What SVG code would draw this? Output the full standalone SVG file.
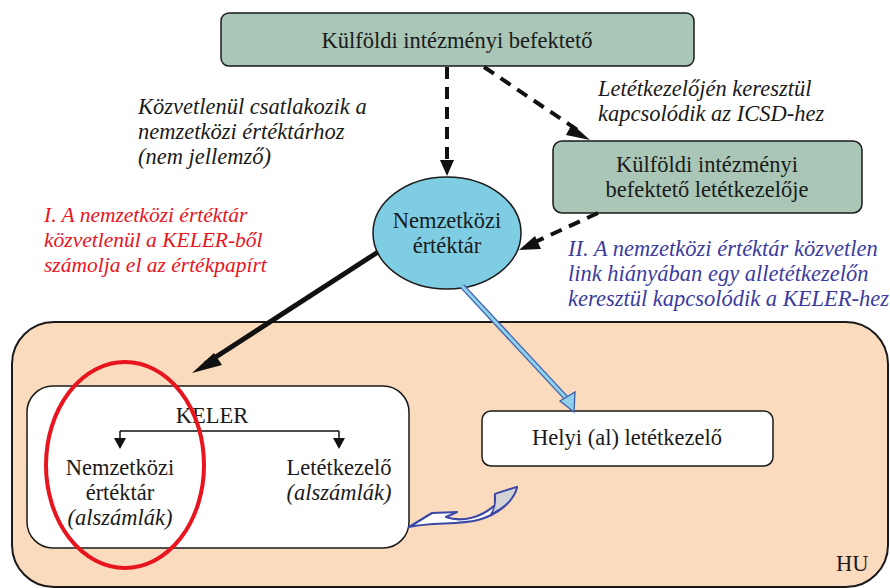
<svg xmlns="http://www.w3.org/2000/svg" width="890" height="588" viewBox="0 0 890 588" font-family="Liberation Serif, DejaVu Serif, serif">
<style>
text{font-family:"Liberation Serif","DejaVu Serif",serif;font-size:22.5px;fill:#1a1a1a}
.c{text-anchor:middle}
.i{font-style:italic}
.red{fill:#e8141e;font-size:21.5px}
.blue{fill:#3b3b9e}
.green{fill:#a9c6b7;stroke:#1a1a1a;stroke-width:1.5}
.white{fill:#ffffff;stroke:#1a1a1a;stroke-width:1.5}
.dash{stroke:#111;stroke-width:4;stroke-dasharray:12,8;fill:none}
</style>

<g id="hu-region">
<rect x="12" y="322" width="876" height="265" rx="42" ry="42" fill="#fbdbbe" stroke="#1a1a1a" stroke-width="2"/>
<text x="836" y="571">HU</text>
</g>

<g id="top-investor">
<rect class="green" x="221" y="13" width="473" height="53" rx="8"/>
<text class="c" x="457" y="48">Külföldi intézményi befektető</text>
</g>

<g id="investor-custodian">
<rect class="green" x="553" y="141" width="309" height="72" rx="9"/>
<text class="c" x="707" y="172">Külföldi intézményi</text>
<text class="c" x="707" y="197">befektető letétkezelője</text>
</g>

<g id="icsd">
<ellipse cx="447" cy="233" rx="74" ry="56" fill="#7fcde3" stroke="#1a1a1a" stroke-width="1.5"/>
<text class="c" x="447" y="228">Nemzetközi</text>
<text class="c" x="447" y="253">értéktár</text>
</g>

<g id="keler">
<rect class="white" x="27" y="386" width="382" height="162" rx="26"/>
<text class="c" x="212" y="423">KELER</text>
<path d="M120,431 H339 M120,431 V441 M339,431 V441" stroke="#111" stroke-width="1.5" fill="none"/>
<path d="M114,438 L126,438 L120,449 Z M333,438 L345,438 L339,449 Z" fill="#111"/>
<text class="c" x="120" y="475">Nemzetközi</text>
<text class="c" x="120" y="500">értéktár</text>
<text class="c i" x="120" y="525">(alszámlák)</text>
<text class="c" x="339" y="475">Letétkezelő</text>
<text class="c i" x="339" y="500">(alszámlák)</text>
</g>

<g id="local-custodian">
<rect class="white" x="482" y="411" width="291" height="55" rx="9"/>
<text class="c" x="627" y="445">Helyi (al) letétkezelő</text>
</g>

<g id="connectors">
<line class="dash" x1="447" y1="67" x2="447" y2="162"/>
<path d="M440,160 L454,160 L447,176 Z" fill="#111"/>
<line class="dash" x1="484" y1="67" x2="579" y2="131"/>
<path d="M572,124 L590,140 L566,135 Z" fill="#111"/>
<line class="dash" x1="598" y1="213" x2="533" y2="243"/>
<path d="M535,236 L519,250 L541,249 Z" fill="#111"/>
<line x1="378" y1="252" x2="205" y2="364" stroke="#111" stroke-width="5"/>
<path d="M214,353 L192,373 L222,365 Z" fill="#111"/>
<line x1="462" y1="286" x2="568" y2="400" stroke="#3f5fae" stroke-width="5.5"/>
<line x1="462" y1="286" x2="568" y2="400" stroke="#8fd0ea" stroke-width="3"/>
<path d="M560,401 L575,392 L574,412 Z" fill="#8fd0ea" stroke="#3f5fae" stroke-width="1.3"/>
<path d="M409,527 L432,513 L457,512 L446,517 C462,523 482,517 495,505 L495,494 L517,487 C514,500 500,514 478,520 C458,525 432,522 409,527 Z" fill="#ffffff" stroke="#3b48a8" stroke-width="2.2" stroke-linejoin="round"/>
<path d="M495,494 L517,487 C514,499 506,507 491,514 C495,508 496,501 495,494 Z" fill="#d3d3d6" stroke="#3b48a8" stroke-width="1.5" stroke-linejoin="round"/>
</g>

<g id="ellipse-highlight">
<ellipse cx="125" cy="465" rx="79" ry="103" fill="none" stroke="#e8141e" stroke-width="4"/>
</g>

<g id="labels">
<text class="i" x="138" y="114">Közvetlenül csatlakozik a</text>
<text class="i" x="138" y="139">nemzetközi értéktárhoz</text>
<text class="i" x="138" y="164">(nem jellemző)</text>
<text class="i" x="598" y="96">Letétkezelőjén keresztül</text>
<text class="i" x="598" y="121">kapcsolódik az ICSD-hez</text>
<text class="i red" x="44" y="222">I. A nemzetközi értéktár</text>
<text class="i red" x="44" y="247">közvetlenül a KELER-ből</text>
<text class="i red" x="44" y="272">számolja el az értékpapírt</text>
<text class="i blue" x="568" y="256">II. A nemzetközi értéktár közvetlen</text>
<text class="i blue" x="568" y="281">link hiányában egy alletétkezelőn</text>
<text class="i blue" x="568" y="306">keresztül kapcsolódik a KELER-hez</text>
</g>
</svg>
